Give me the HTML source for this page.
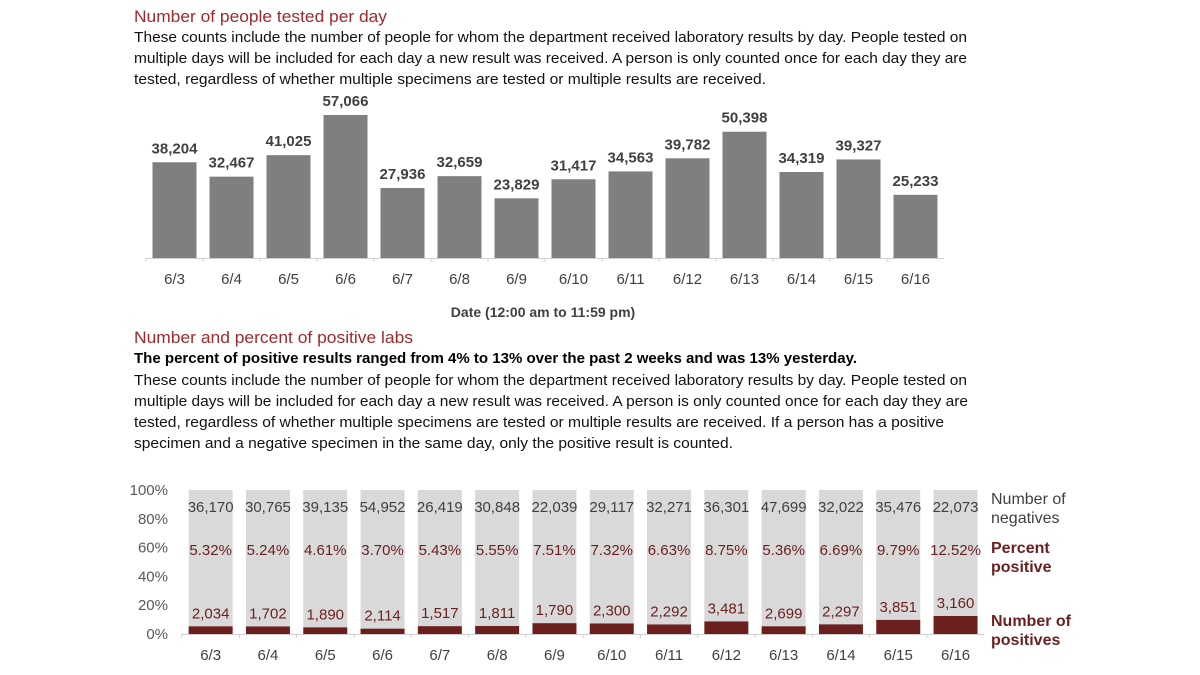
<!DOCTYPE html>
<html><head><meta charset="utf-8"><style>
body{margin:0;background:#fff;}
svg{display:block;font-family:"Liberation Sans Narrow","Liberation Sans",sans-serif;}
</style></head><body>
<svg id="s" width="1200" height="675" viewBox="0 0 1200 675" xmlns="http://www.w3.org/2000/svg">
<g font-family="Liberation Sans, sans-serif">
<text x="134" y="22" font-size="17" fill="#9e2a2b" textLength="253" lengthAdjust="spacingAndGlyphs">Number of people tested per day</text>
<g font-size="14.5" fill="#111">
<text x="134" y="42" textLength="833" lengthAdjust="spacingAndGlyphs">These counts include the number of people for whom the department received laboratory results by day. People tested on</text>
<text x="134" y="63" textLength="833" lengthAdjust="spacingAndGlyphs">multiple days will be included for each day a new result was received. A person is only counted once for each day they are</text>
<text x="134" y="84" textLength="632" lengthAdjust="spacingAndGlyphs">tested, regardless of whether multiple specimens are tested or multiple results are received.</text>
</g>
<text x="134" y="343" font-size="17" fill="#9e2a2b" textLength="279" lengthAdjust="spacingAndGlyphs">Number and percent of positive labs</text>
<text x="134" y="363" font-size="14.5" font-weight="bold" fill="#000" textLength="723" lengthAdjust="spacingAndGlyphs">The percent of positive results ranged from 4% to 13% over the past 2 weeks and was 13% yesterday.</text>
<g font-size="14.5" fill="#111">
<text x="134" y="385" textLength="833" lengthAdjust="spacingAndGlyphs">These counts include the number of people for whom the department received laboratory results by day. People tested on</text>
<text x="134" y="406" textLength="834" lengthAdjust="spacingAndGlyphs">multiple days will be included for each day a new result was received. A person is only counted once for each day they are</text>
<text x="134" y="427" textLength="810" lengthAdjust="spacingAndGlyphs">tested, regardless of whether multiple specimens are tested or multiple results are received. If a person has a positive</text>
<text x="134" y="448" textLength="599" lengthAdjust="spacingAndGlyphs">specimen and a negative specimen in the same day, only the positive result is counted.</text>
</g>
</g>
<g id="topchart"></g>
<g id="botchart"></g>
</svg>
<script>
const dates = ["6/3","6/4","6/5","6/6","6/7","6/8","6/9","6/10","6/11","6/12","6/13","6/14","6/15","6/16"];
const tested = [38204,32467,41025,57066,27936,32659,23829,31417,34563,39782,50398,34319,39327,25233];
const negatives = [36170,30765,39135,54952,26419,30848,22039,29117,32271,36301,47699,32022,35476,22073];
const positives = [2034,1702,1890,2114,1517,1811,1790,2300,2292,3481,2699,2297,3851,3160];
const pctLabels = ["5.32%","5.24%","4.61%","3.70%","5.43%","5.55%","7.51%","7.32%","6.63%","8.75%","5.36%","6.69%","9.79%","12.52%"];
const yTicks = [0,20,40,60,80,100];

const NS="http://www.w3.org/2000/svg";
function mk(parent,tag,attrs,txt){const e=document.createElementNS(NS,tag);for(const k in attrs)e.setAttribute(k,attrs[k]);if(txt!==undefined)e.textContent=txt;parent.appendChild(e);return e;}
const fmt=v=>v.toLocaleString("en-US");

const topG=document.getElementById("topchart");
const tx0=146, tstep=57, tBase=258;
const tY=v=>tBase-v*(143/57066);
mk(topG,"line",{x1:tx0,x2:tx0+tstep*14,y1:tBase+0.5,y2:tBase+0.5,stroke:"#d0d0d0"});
dates.forEach((d,i)=>{
  const cx=tx0+tstep*(i+0.5);
  const b=mk(topG,"rect",{x:cx-22,y:tY(tested[i]),width:44,height:tBase-tY(tested[i]),fill:"#7f7f7f"});
  
  
  const l=mk(topG,"text",{x:cx,y:tY(tested[i])-9,"text-anchor":"middle","font-size":"15","font-weight":"bold",fill:"#404040"},fmt(tested[i]));
  
  
  const t=mk(topG,"text",{x:cx,y:284,"text-anchor":"middle","font-size":"15",fill:"#404040"},d);
  
  
  mk(topG,"line",{x1:tx0+tstep*i,x2:tx0+tstep*i,y1:tBase,y2:tBase+4,stroke:"#d0d0d0"});
});
const xt=mk(topG,"text",{x:543,y:317,"text-anchor":"middle","font-size":"14",fill:"#404040","font-weight":"bold"},"Date (12:00 am to 11:59 pm)");



const botG=document.getElementById("botchart");
const bx0=182, bstep=57.3, bBase=634, bTop=490;
const bY=p=>bBase-p/100*(bBase-bTop);
yTicks.forEach(t=>{
  const e=mk(botG,"text",{x:168,y:bY(t)+5,"text-anchor":"end","font-size":"15",fill:"#595959"},t+"%");
  
  
});
mk(botG,"line",{x1:bx0,x2:bx0+bstep*14,y1:bBase+0.5,y2:bBase+0.5,stroke:"#d0d0d0"});
dates.forEach((d,i)=>{
  const cx=bx0+bstep*(i+0.5);
  const tot=negatives[i]+positives[i];
  const pp=positives[i]/tot*100;
  const g=mk(botG,"rect",{x:cx-22,y:bTop,width:44,height:bY(pp)-bTop,fill:"#d9d9d9"});
  
  
  const r=mk(botG,"rect",{x:cx-22,y:bY(pp),width:44,height:bBase-bY(pp),fill:"#6b1f1f"});
  
  
  const n=mk(botG,"text",{x:cx,y:512,"text-anchor":"middle","font-size":"15",fill:"#404040"},fmt(negatives[i]));
  
  
  const p=mk(botG,"text",{x:cx,y:555,"text-anchor":"middle","font-size":"15",fill:"#6b1f1f"},pctLabels[i]);
  
  
  const q=mk(botG,"text",{x:cx,y:bY(pp)-8,"text-anchor":"middle","font-size":"15",fill:"#6b1f1f"},fmt(positives[i]));
  
  
  const t=mk(botG,"text",{x:cx,y:660,"text-anchor":"middle","font-size":"15",fill:"#404040"},d);
  
  
  mk(botG,"line",{x1:bx0+bstep*i,x2:bx0+bstep*i,y1:bBase,y2:bBase+4,stroke:"#d0d0d0"});
});
const leg=[["Number of",504,"#404040"],["negatives",523,"#404040"],["Percent",553,"#6b1f1f"],["positive",572,"#6b1f1f"],["Number of",626,"#6b1f1f"],["positives",645,"#6b1f1f"]];
leg.forEach(([s,y,c])=>{
  const e=mk(botG,"text",{x:991,y:y,"font-size":"16",fill:c,"font-weight":c==="#6b1f1f"?"bold":"normal"},s);
  
  
});
</script>
</body></html>
